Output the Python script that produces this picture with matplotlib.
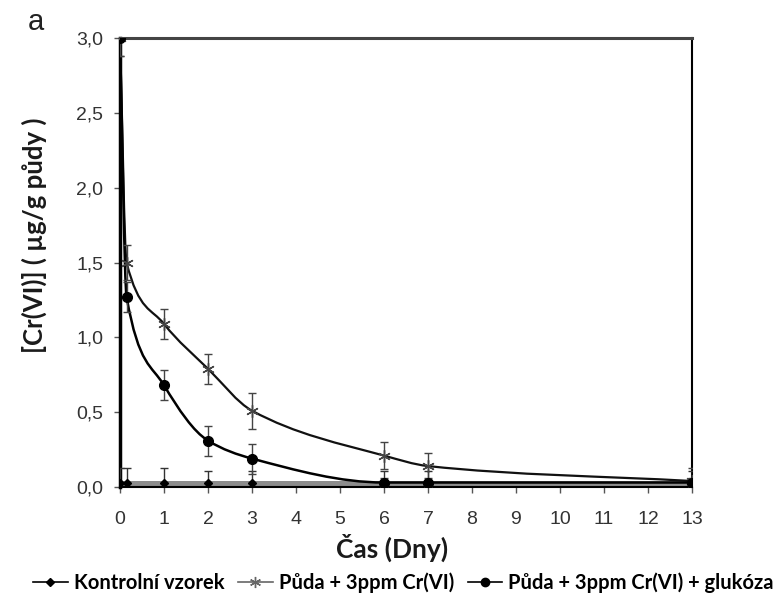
import numpy as np
import matplotlib
matplotlib.use("Agg")
import matplotlib.pyplot as plt
from matplotlib.path import Path
from matplotlib.patches import PathPatch
from matplotlib.lines import Line2D
from matplotlib.ticker import FuncFormatter

# ---- data ----
days = [0, 0.15, 1, 2, 3, 6, 7, 13]
kontrola = [0.03, 0.03, 0.03, 0.03, 0.03, 0.03, 0.03, 0.03]
kontrola_err = [0.1, 0.1, 0.1, 0.08, 0.08, 0.08, 0.08, 0.08]
cr = [3.0, 1.5, 1.09, 0.79, 0.51, 0.21, 0.14, 0.04]
cr_err = [0.12, 0.12, 0.1, 0.1, 0.12, 0.09, 0.09, 0.09]
glu = [3.0, 1.27, 0.68, 0.31, 0.19, 0.03, 0.03, 0.03]
glu_err = [0.12, 0.1, 0.1, 0.1, 0.1, 0.03, 0.03, 0.03]
labels = ["Kontrolní vzorek", "Půda + 3ppm Cr(VI)", "Půda + 3ppm Cr(VI) + glukóza"]
xticks = list(range(0, 14))
yticks = [0, 0.5, 1.0, 1.5, 2.0, 2.5, 3.0]

plt.rcParams['font.family'] = ['Liberation Sans', 'DejaVu Sans']
LABEL_FONT = ['Lato', 'Liberation Sans', 'DejaVu Sans']

fig = plt.figure(figsize=(7.76, 6.08), dpi=100)
ax = fig.add_axes([0.1546, 0.199, 0.8917 - 0.1546, 0.9375 - 0.199])


def smooth_path(x, y):
    """Monotone cubic Hermite curve through the data, as a Bezier path."""
    x = np.asarray(x, float)
    y = np.asarray(y, float)
    n = len(x)
    h = np.diff(x)
    d = np.diff(y) / h
    m = np.zeros(n)
    m[0] = d[0]
    m[-1] = d[-1]
    for k in range(1, n - 1):
        if d[k - 1] * d[k] <= 0:
            m[k] = 0.0
        else:
            w1 = 2 * h[k] + h[k - 1]
            w2 = h[k] + 2 * h[k - 1]
            m[k] = (w1 + w2) / (w1 / d[k - 1] + w2 / d[k])
    verts = [(x[0], y[0])]
    codes = [Path.MOVETO]
    for k in range(n - 1):
        verts += [(x[k] + h[k] / 3, y[k] + m[k] * h[k] / 3),
                  (x[k + 1] - h[k] / 3, y[k + 1] - m[k + 1] * h[k] / 3),
                  (x[k + 1], y[k + 1])]
        codes += [Path.CURVE4] * 3
    return Path(verts, codes)


# control series (gray thick line)
ax.plot(days, kontrola, color='#8c8c8c', lw=3.6, zorder=2, solid_capstyle='butt')
ax.errorbar(days, kontrola, yerr=kontrola_err, fmt='none',
            ecolor='#333333', elinewidth=1, capsize=3, zorder=4)
ax.plot(days, kontrola, linestyle='none', marker='D', color='black', ms=4, zorder=4)

# Cr series
ax.add_patch(PathPatch(smooth_path(days, cr), fill=False, edgecolor='#111111', lw=1.6, zorder=3))
ax.errorbar(days, cr, yerr=cr_err, fmt='none',
            ecolor='#444444', elinewidth=1, capsize=3, zorder=4)
ax.plot(days, cr, linestyle='none', marker=(6, 2, 0), color='#444444', ms=9, mew=1, zorder=4)

# glucose series
ax.add_patch(PathPatch(smooth_path(days, glu), fill=False, edgecolor='black', lw=1.8, zorder=3))
ax.errorbar(days, glu, yerr=glu_err, fmt='none',
            ecolor='#444444', elinewidth=1, capsize=3, zorder=5)
ax.plot(days, glu, linestyle='none', marker='o', color='black', ms=7, zorder=5)

ax.set_xlim(0, 13)
ax.set_ylim(0, 3.0)
ax.set_xticks(xticks)
ax.set_yticks(yticks)
ax.yaxis.set_major_formatter(FuncFormatter(lambda v, p: f"{v:.1f}".replace('.', ',')))
ax.tick_params(axis='both', labelsize=14, direction='out', length=4, width=1,
               color='#555555', labelcolor='#333333')
ax.tick_params(axis='x', pad=13)
ax.tick_params(axis='y', pad=8)
for s in ['left', 'bottom', 'right']:
    ax.spines[s].set_color('black')
    ax.spines[s].set_linewidth(1.5)
ax.spines['left'].set_linewidth(2.5)
ax.spines['top'].set_color('#444444')
ax.spines['top'].set_linewidth(2.2)

ax.set_xlabel("Čas (Dny)", fontsize=19, fontweight='bold',
              family=LABEL_FONT, color='#1a1a1a')
ax.xaxis.set_label_coords(0.475, -0.105)
ax.set_ylabel("[Cr(VI)] ( µg/g půdy )", fontsize=18.5, fontweight='bold',
              family=LABEL_FONT, color='#1a1a1a')
ax.yaxis.set_label_coords(-0.128, 0.56)

fig.text(0.036, 0.95, "a", fontsize=21, color='#222222')

handles = [
    Line2D([], [], color='black', marker='D', ms=4, lw=1.2),
    Line2D([], [], color='#666666', marker=(6, 2, 0), ms=8, lw=1.2),
    Line2D([], [], color='black', marker='o', ms=6, lw=1.2),
]
fig.legend(handles, labels, loc='center', bbox_to_anchor=(0.52, 0.042), ncol=3, frameon=False,
           handlelength=1.7, handletextpad=0.3, columnspacing=0.7,
           prop={'family': LABEL_FONT, 'weight': 'bold', 'size': 14.5})

fig.savefig("out.png", dpi=100)
